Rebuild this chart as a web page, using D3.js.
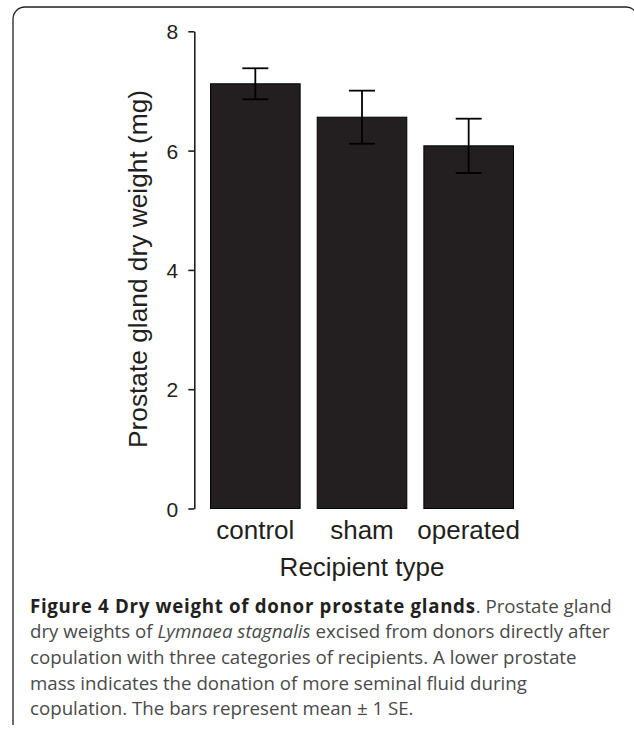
<!DOCTYPE html>
<html>
<head>
<meta charset="utf-8">
<script src="https://cdn.jsdelivr.net/npm/d3@7"></script>
<style>
  html, body { margin: 0; padding: 0; background: #fff; }
  svg { display: block; }
</style>
</head>
<body>
<div id="chart"></div>
<script>
// data
const categories = ["control", "sham", "operated"];
const means = [7.12, 6.56, 6.08];
const se = [0.26, 0.445, 0.455];
const yTicks = [0, 2, 4, 6, 8];

// caption lines, split like the original
const captionLines = [
  [{t: "Figure 4 Dry weight of donor prostate glands", b: true}, {t: ". Prostate gland"}],
  [{t: "dry weights of "}, {t: "Lymnaea stagnalis", i: true}, {t: " excised from donors directly after"}],
  [{t: "copulation with three categories of recipients. A lower prostate"}],
  [{t: "mass indicates the donation of more seminal fluid during"}],
  [{t: "copulation. The bars represent mean \u00b1 1 SE."}]
];

const W = 634, H = 730;
const INK = "#231f20";

const svg = d3.select("#chart")
    .append("svg")
    .attr("width", W)
    .attr("height", H);

// frame with rounded corners (the page box of the figure)
svg.append("path")
    .attr("d", "M13,725 L13,19 A12,12 0 0 1 25,7 L626,7 A12,12 0 0 1 638,19")
    .attr("fill", "none")
    .attr("stroke", INK)
    .attr("stroke-width", 1.3);

const xScale = d3.scaleBand()
    .domain(categories)
    .range([202, 522])
    .paddingInner(0.16)
    .paddingOuter(0.08);

const yScale = d3.scaleLinear()
    .domain([0, 8])
    .range([508.5, 31.3]);

const rows = categories.map((c, i) => ({cat: c, mean: means[i], se: se[i]}));

// bars
svg.append("g")
  .selectAll("rect")
  .data(rows)
  .join("rect")
    .attr("x", d => xScale(d.cat))
    .attr("y", d => yScale(d.mean))
    .attr("width", xScale.bandwidth())
    .attr("height", d => yScale(0) - yScale(d.mean))
    .attr("fill", INK)
    .attr("stroke", "#000")
    .attr("stroke-width", 1);

// error bars
const capW = xScale.bandwidth() * 0.29;
const eb = svg.append("g")
    .attr("stroke", "#000")
    .attr("stroke-width", 1.8)
    .attr("fill", "none");

eb.selectAll("line.v")
  .data(rows)
  .join("line")
    .attr("class", "v")
    .attr("x1", d => xScale(d.cat) + xScale.bandwidth() / 2)
    .attr("x2", d => xScale(d.cat) + xScale.bandwidth() / 2)
    .attr("y1", d => yScale(d.mean + d.se))
    .attr("y2", d => yScale(d.mean - d.se));

["top", "bot"].forEach(k => {
  eb.selectAll("line." + k)
    .data(rows)
    .join("line")
      .attr("class", k)
      .attr("x1", d => xScale(d.cat) + xScale.bandwidth() / 2 - capW / 2)
      .attr("x2", d => xScale(d.cat) + xScale.bandwidth() / 2 + capW / 2)
      .attr("y1", d => yScale(k === "top" ? d.mean + d.se : d.mean - d.se))
      .attr("y2", d => yScale(k === "top" ? d.mean + d.se : d.mean - d.se));
});

// y axis
const yAxis = d3.axisLeft(yScale)
    .tickValues(yTicks)
    .tickSize(6)
    .tickSizeOuter(0)
    .tickPadding(10)
    .tickFormat(d3.format("d"));

const gy = svg.append("g")
    .attr("transform", "translate(194.3,0)")
    .call(yAxis);
gy.select(".domain").attr("stroke", INK).attr("stroke-width", 1.6);
gy.selectAll(".tick line").attr("stroke", INK).attr("stroke-width", 1.6);
gy.selectAll(".tick text")
    .attr("fill", INK)
    .attr("font-family", "'Liberation Sans', Arial, sans-serif")
    .attr("font-size", 21)
    .attr("dy", "0.36em");

// category labels
svg.append("g")
  .selectAll("text")
  .data(categories)
  .join("text")
    .attr("x", d => xScale(d) + xScale.bandwidth() / 2)
    .attr("y", 539)
    .attr("text-anchor", "middle")
    .attr("font-family", "'Liberation Sans', Arial, sans-serif")
    .attr("font-size", 26)
    .attr("fill", INK)
    .text(d => d);

// axis titles
svg.append("text")
    .attr("x", (xScale.range()[0] + xScale.range()[1]) / 2)
    .attr("y", 575.7)
    .attr("text-anchor", "middle")
    .attr("font-family", "'Liberation Sans', Arial, sans-serif")
    .attr("font-size", 26)
    .attr("fill", INK)
    .text("Recipient type");

svg.append("text")
    .attr("transform", "translate(147,269) rotate(-90)")
    .attr("text-anchor", "middle")
    .attr("font-family", "'Liberation Sans', Arial, sans-serif")
    .attr("font-size", 26.3)
    .attr("fill", INK)
    .text("Prostate gland dry weight (mg)");

// caption
const cap = svg.append("text")
    .attr("font-family", "'Open Sans', 'Noto Sans', sans-serif")
    .attr("font-size", 18.7)
    .attr("fill", "#4a4a4a");

captionLines.forEach((line, li) => {
  const row = cap.append("tspan")
      .attr("x", 30)
      .attr("y", 612.7 + li * 25.6);
  line.forEach(seg => {
    const s = row.append("tspan").text(seg.t);
    if (seg.b) s.attr("font-weight", "bold").attr("fill", INK).attr("letter-spacing", 0.7);
    if (seg.i) s.attr("font-style", "italic");
  });
});
</script>
</body>
</html>
